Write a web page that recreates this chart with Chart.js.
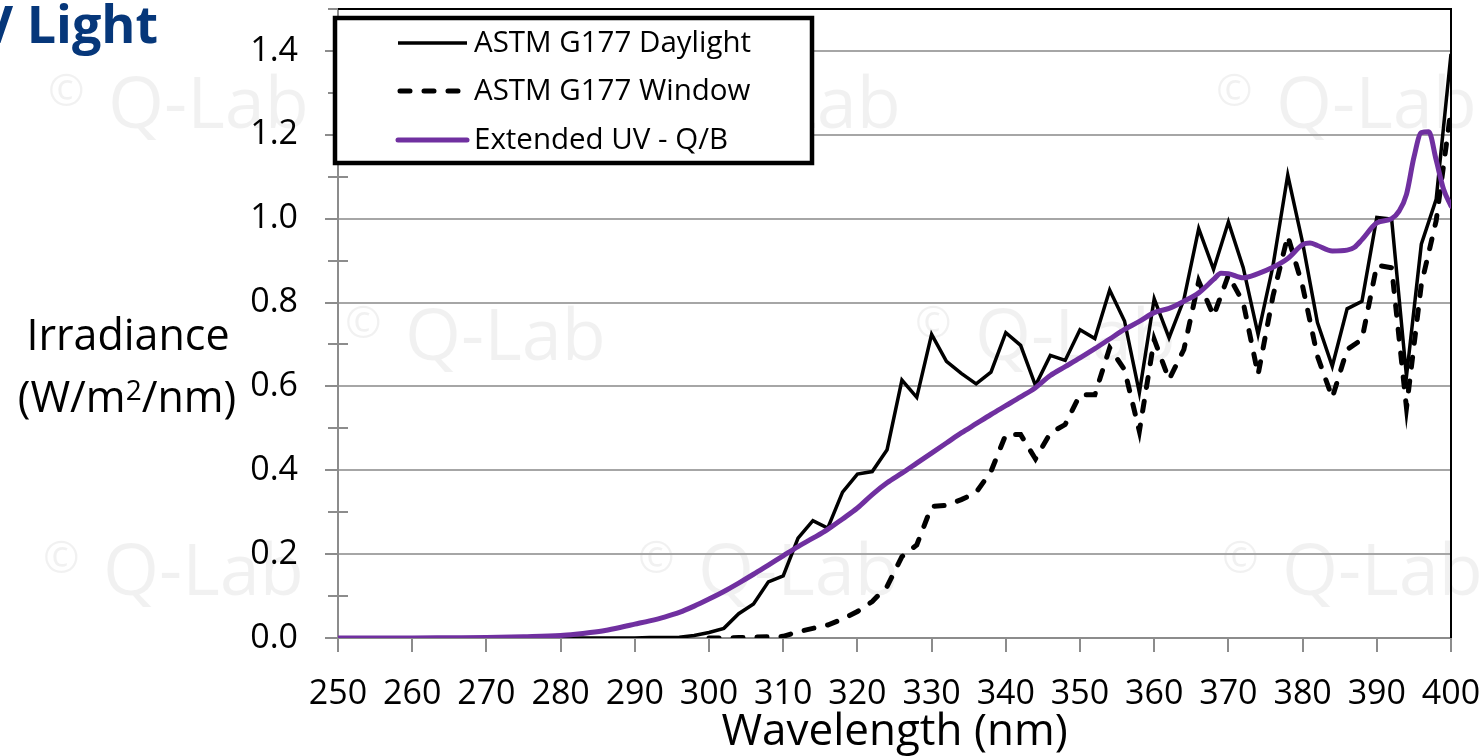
<!DOCTYPE html>
<html>
<head>
<meta charset="utf-8">
<script src="https://cdn.jsdelivr.net/npm/chart.js@4.4.1/dist/chart.umd.min.js"></script>
<style>
  html, body { margin: 0; padding: 0; background: #ffffff; }
  #wrap { position: relative; width: 1483px; height: 756px; }
</style>
</head>
<body>
<div id="wrap"><canvas id="c" width="1483" height="756"></canvas></div>
<script>
// ---------------- data ----------------
const daylightNm = [280,282,284,286,288,290,292,294,296,298,300,302,304,306,308,310,312,314,316,318,320,322,324,326,328,330,332,334,336,338,340,342,344,346,348,350,352,354,356,358,360,362,364,366,368,370,372,374,376,378,380,382,384,386,388,390,392,394,396,398,400];
const daylightVal = [0,0,0,0,0,0,0.001,0.001,0.002,0.006,
  0.013,0.023,0.058,0.081,0.134,0.148,0.238,0.280,0.262,0.348,
  0.391,0.397,0.449,0.615,0.574,0.724,0.660,0.631,0.606,0.634,
  0.728,0.698,0.602,0.674,0.662,0.735,0.714,0.830,0.756,0.585,
  0.809,0.716,0.807,0.976,0.879,0.992,0.883,0.724,0.887,1.104,
  0.943,0.752,0.648,0.785,0.803,1.003,0.999,0.624,0.939,1.046,1.393];

const windowNm = [300,302,304,306,308,310,312,314,316,318,320,322,324,326,328,330,332,334,336,338,340,342,344,346,348,350,352,354,356,358,360,362,364,366,368,370,372,374,376,378,380,382,384,386,388,390,392,394,396,398,400];
const windowVal = [0,0,0.001,0.002,0.003,0.004,
  0.015,0.023,0.031,0.045,0.063,
  0.087,0.123,0.194,0.222,0.314,
  0.316,0.330,0.347,0.397,0.485,
  0.485,0.427,0.489,0.509,0.580,
  0.580,0.692,0.640,0.493,0.712,
  0.616,0.688,0.851,0.768,0.865,
  0.800,0.628,0.815,0.959,0.839,
  0.672,0.573,0.688,0.712,0.889,
  0.883,0.549,0.843,0.995,1.26];

const qbNm = [250,260,265,270,275,280,282,284,286,288,290,292,294,296,298,300,302,304,306,308,310,312,314,316,318,320,322,324,326,328,330,332,334,336,338,340,342,344,346,348,350,352,354,356,358,360,362,364,366,368,369,370,372,374,376,378,380,381,382,384,386,387,388,390,392,393,394,395,396,397,398,399,400];
const qbVal = [0,0,0.0005,0.001,0.003,0.006,0.009,0.013,0.018,0.025,
  0.033,0.041,0.050,0.061,0.076,0.093,0.111,0.131,0.152,0.174,
  0.196,0.218,0.238,0.259,0.284,0.310,0.342,0.370,0.393,0.417,
  0.441,0.465,0.489,0.511,0.533,0.554,0.575,0.597,0.626,0.647,
  0.668,0.690,0.713,0.736,0.755,0.776,0.786,0.803,0.823,0.855,
  0.870,0.869,0.859,0.869,0.884,0.905,0.938,0.942,0.936,0.923,
  0.925,0.932,0.950,0.990,1.000,1.018,1.058,1.146,1.205,1.207,
  1.140,1.070,1.030];

const seriesNames = ['ASTM G177 Daylight', 'ASTM G177 Window', 'Extended UV - Q/B'];
const xTickLabels = ['250','260','270','280','290','300','310','320','330','340','350','360','370','380','390','400'];
const yTickLabels = ['0.0','0.2','0.4','0.6','0.8','1.0','1.2','1.4'];
const xTitle = 'Wavelength (nm)';
const yTitle1 = 'Irradiance';
const slideTitle = 'UV Light';
const watermarkText = 'Q-Lab';

// ---------------- styling ----------------
const FONT = "'Open Sans', 'Noto Sans', sans-serif";
const PURPLE = '#7030a0';
const AXIS_GRAY = '#8c8c8c';
const GRID_GRAY = '#a6a6a6';

function pairs(xs, ys) { return xs.map((x, i) => ({ x: x, y: ys[i] })); }
function noPad(s) { s.paddingTop = 0; s.paddingBottom = 0; s.paddingLeft = 0; s.paddingRight = 0; }

const decor = {
  id: 'decor',
  beforeDraw(chart) {
    const ctx = chart.ctx;
    ctx.save();
    ctx.fillStyle = '#ffffff';
    ctx.fillRect(0, 0, chart.width, chart.height);
    // faint watermarks
    const marks = [[48,128],[640,128],[1216,128],[345,360],[915,360],[43,595],[638,595],[1222,595]];
    ctx.fillStyle = 'rgba(0,0,0,0.055)';
    ctx.textBaseline = 'alphabetic';
    ctx.textAlign = 'left';
    marks.forEach(([x, y]) => {
      ctx.font = '44px ' + FONT;
      ctx.fillText('\u00a9', x, y - 22);
      ctx.font = '72px ' + FONT;
      ctx.fillText(watermarkText, x + 60, y);
    });
    ctx.restore();
  },
  beforeDatasetsDraw(chart) {
    const ctx = chart.ctx;
    const a = chart.chartArea;
    const xs = chart.scales.x, ys = chart.scales.y;
    ctx.save();
    ctx.strokeStyle = AXIS_GRAY;
    ctx.lineWidth = 2;
    ctx.lineCap = 'butt';
    // y axis line
    ctx.beginPath();
    ctx.moveTo(a.left, a.top); ctx.lineTo(a.left, a.bottom + 14);
    ctx.stroke();
    // x axis line
    ctx.beginPath();
    ctx.moveTo(a.left - 13, a.bottom); ctx.lineTo(a.right, a.bottom);
    ctx.stroke();
    // y ticks
    for (let i = 0; i <= 15; i++) {
      const py = Math.round(ys.getPixelForValue(i / 10));
      ctx.beginPath();
      if (i % 2 === 0) { ctx.moveTo(a.left - 13, py); ctx.lineTo(a.left, py); }
      else { ctx.moveTo(a.left - 10, py); ctx.lineTo(a.left + 10, py); }
      ctx.stroke();
    }
    // x ticks
    xTickLabels.forEach(t => {
      const px = Math.round(xs.getPixelForValue(Number(t)));
      ctx.beginPath();
      ctx.moveTo(px, a.bottom); ctx.lineTo(px, a.bottom + 14);
      ctx.stroke();
    });
    // black frame top & right
    ctx.strokeStyle = '#000000';
    ctx.lineWidth = 2;
    ctx.beginPath();
    ctx.moveTo(a.left, a.top); ctx.lineTo(a.right, a.top); ctx.lineTo(a.right, a.bottom);
    ctx.stroke();
    ctx.restore();
  },
  afterDraw(chart) {
    const ctx = chart.ctx;
    const a = chart.chartArea;
    ctx.save();
    // legend box
    const bx = 335, by = 18, bw = 477, bh = 145;
    ctx.fillStyle = '#ffffff';
    ctx.fillRect(bx, by, bw, bh);
    ctx.strokeStyle = '#000000';
    ctx.lineWidth = 4.5;
    ctx.strokeRect(bx, by, bw, bh);
    const rows = [43, 91, 140];
    const ds = chart.data.datasets;
    rows.forEach((ry, i) => {
      const d = ds[i];
      ctx.save();
      ctx.strokeStyle = d.borderColor;
      ctx.lineWidth = d.borderWidth;
      ctx.lineCap = d.borderCapStyle || 'butt';
      ctx.setLineDash(i === 1 ? [10, 14] : []);
      ctx.beginPath();
      ctx.moveTo(i === 1 ? 400 : 398, ry); ctx.lineTo(i === 1 ? 465 : 467, ry);
      ctx.stroke();
      ctx.restore();
      ctx.fillStyle = '#000000';
      ctx.font = '29.5px ' + FONT;
      ctx.textAlign = 'left';
      ctx.textBaseline = 'middle';
      ctx.fillText(d.label, 474, ry + 1);
    });
    // x axis title
    ctx.fillStyle = '#000000';
    ctx.textBaseline = 'alphabetic';
    ctx.textAlign = 'center';
    ctx.font = '44px ' + FONT;
    ctx.fillText(xTitle, (a.left + a.right) / 2, 745);
    // y axis title (two lines, second with superscript 2)
    ctx.font = '43px ' + FONT;
    ctx.fillText(yTitle1, 128, 350);
    const p1 = '(W/m', p2 = '2', p3 = '/nm)';
    ctx.font = '43px ' + FONT;
    const w1 = ctx.measureText(p1).width, w3 = ctx.measureText(p3).width;
    ctx.font = '28px ' + FONT;
    const w2 = ctx.measureText(p2).width;
    let sx = 127 - (w1 + w2 + w3) / 2;
    ctx.textAlign = 'left';
    ctx.font = '43px ' + FONT;
    ctx.fillText(p1, sx, 412);
    ctx.font = '28px ' + FONT;
    ctx.fillText(p2, sx + w1, 400);
    ctx.font = '43px ' + FONT;
    ctx.fillText(p3, sx + w1 + w2, 412);
    // slide title (cropped)
    ctx.fillStyle = '#06377a';
    ctx.font = 'bold 52px ' + FONT;
    ctx.textAlign = 'right';
    ctx.fillText(slideTitle, 158, 43);
    ctx.restore();
  }
};

new Chart(document.getElementById('c'), {
  type: 'line',
  data: {
    datasets: [
      { label: seriesNames[0], data: pairs(daylightNm, daylightVal), borderColor: '#000000', borderWidth: 3.5,
        pointRadius: 0, tension: 0, order: 3, borderJoinStyle: 'miter' },
      { label: seriesNames[1], data: pairs(windowNm, windowVal), borderColor: '#000000', borderWidth: 5,
        borderDash: [10, 14], borderCapStyle: 'round', pointRadius: 0, tension: 0, order: 2 },
      { label: seriesNames[2], data: pairs(qbNm, qbVal), borderColor: PURPLE, borderWidth: 5,
        pointRadius: 0, cubicInterpolationMode: 'monotone', order: 1, borderCapStyle: 'round' }
    ]
  },
  options: {
    responsive: false,
    animation: false,
    devicePixelRatio: 1,
    layout: { padding: { top: 9, right: 32, left: 0, bottom: 0 } },
    plugins: { legend: { display: false }, tooltip: { enabled: false }, title: { display: false } },
    scales: {
      x: {
        type: 'linear', min: 250, max: 400,
        afterFit(s) { s.height = 118; noPad(s); },
        afterBuildTicks(s) { s.ticks = xTickLabels.map(t => ({ value: Number(t) })); },
        grid: { display: false, drawTicks: false },
        border: { display: false },
        ticks: {
          padding: 36, color: '#000000', font: { family: FONT, size: 34 }, maxRotation: 0, autoSkip: false,
          callback: (v) => xTickLabels.includes(String(v)) ? String(v) : ''
        }
      },
      y: {
        type: 'linear', min: 0, max: 1.5,
        afterFit(s) { s.width = 338; noPad(s); },
        afterBuildTicks(s) {
          const t = [];
          for (let i = 0; i <= 15; i++) t.push({ value: i / 10 });
          s.ticks = t;
        },
        grid: {
          drawTicks: false, lineWidth: 2,
          color: (c) => {
            const k = Math.round(c.tick.value * 10);
            return (k % 2 === 0 && k > 0 && k < 15) ? GRID_GRAY : 'rgba(0,0,0,0)';
          }
        },
        border: { display: false },
        ticks: {
          padding: 40, color: '#000000', font: { family: FONT, size: 34 }, autoSkip: false,
          callback: (v) => {
            const k = Math.round(v * 10);
            return (k % 2 === 0) ? yTickLabels[k / 2] : '';
          }
        }
      }
    }
  },
  plugins: [decor]
});
</script>
</body>
</html>
